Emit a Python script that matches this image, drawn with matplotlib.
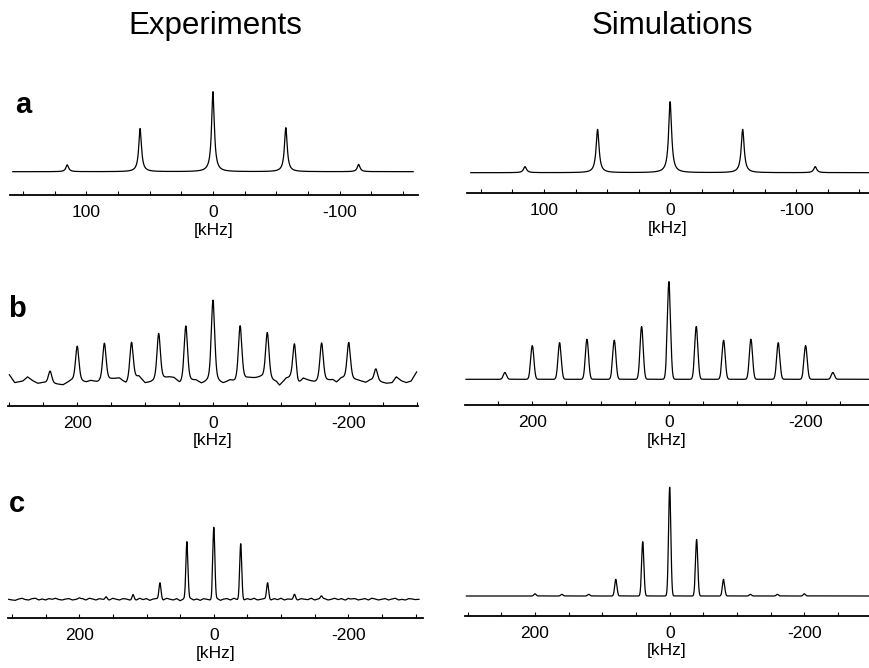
import numpy as np
import matplotlib
matplotlib.use("Agg")
import matplotlib.pyplot as plt
from matplotlib.ticker import MultipleLocator, FixedLocator

plt.rcParams['font.family'] = ['Liberation Sans', 'DejaVu Sans']
plt.rcParams['axes.unicode_minus'] = False

# ---------------- data (kHz, relative intensity; centre band = 100) ----------------
# row a : spinning ~57.5 kHz
a_pos = [115, 57.5, 0, -57.5, -115]
a_exp_amp = [8.5, 54, 100, 55, 9]
a_sim_amp = [8.5, 61, 100, 61, 8.5]

# row b : sidebands every 40 kHz
b_pos = [240, 200, 160, 120, 80, 40, 0, -40, -80, -120, -160, -200, -240]
b_exp_amp = [15, 43, 46, 47, 57, 69, 100, 67, 57, 47, 47, 45, 15]
b_sim_amp = [7, 34.5, 37.5, 41, 40, 54, 100, 54, 40, 41, 37.5, 34.5, 7]
b_exp_base_khz = [302, 292, 280, 273, 265, 258, 250, 221, 209, 187, 180, 170, 147, 138,
                  128, 109, 100, 91, 64, 57, 49, 25, 17, 8, -5, -15, -25, -32, -54, -62,
                  -71, -94, -98, -108, -114, -125, -133, -142, -150, -170, -177, -182,
                  -189, -216, -225, -232, -256, -264, -270, -278, -285, -292, -300]
b_exp_base_val = [12, 0, 2, 7, 2, -1, 0, -3, 2, 0, 2, 0, 4, 5,
                  -2, 7, -1, 0, 6, 5, -2, 2, -2, 0, 0, -2, 2, 0, 5, 5,
                  6, 0, -4, 4.5, 4.5, -4, 4.5, 2, 0, 2, 3, 0,
                  5, 2, 0, 3, -1, 0, 7, 2, 0, 2, 13]

# row c : sidebands every 40 kHz
c_pos = [200, 160, 120, 80, 40, 0, -40, -80, -120, -160, -200]
c_exp_amp = [1.5, 4, 7.5, 23, 79, 100, 78, 23, 7.5, 4, 1.5]
c_sim_amp = [2, 1.5, 1.5, 15.3, 50, 100, 52, 15.3, 1.5, 1.5, 2]
c_exp_base_khz = [305, 300, 295, 290, 285, 280, 275, 270, 265, 260, 255, 250, 245, 240,
                  235, 230, 225, 220, 215, 210, 205, 195, 190, 185, 180, 175, 170, 165,
                  155, 150, 145, 140, 135, 130, 125, 115, 110, 105, 100, 95, 90, 85,
                  75, 70, 65, 60, 55, 50, 45, 35, 30, 25, 20, 15, 10, 5,
                  -5, -10, -15, -20, -25, -30, -35, -45, -50, -55, -60, -65, -70, -75,
                  -85, -90, -95, -100, -105, -110, -115, -125, -130, -135, -140, -145,
                  -150, -155, -165, -170, -175, -180, -185, -190, -195, -205, -210, -215,
                  -220, -225, -230, -235, -240, -245, -250, -255, -260, -265, -270, -275,
                  -280, -285, -290, -295, -300, -305]
c_exp_base_val = [0, -1, -1.5, 0.5, 1.5, -0.5, -1, 1, 1.5, -1, 0.5, -1, 1, 0,
                  1.5, -0.5, -1, 0.5, 1, -1, 0, 1, -1, 1.5, 0.5, -1, 1, 0,
                  -1, 1.5, 0, -1, 1, 0.5, -1, -1, 1.5, -0.5, 1, -1.5, 0.5, 1,
                  -1, 1.5, 0, -1, 1, -2, 0.5, 1.5, -1, 0.5, -1.5, 1, 0, -1,
                  1, -1.5, 0.5, 1, -1, 1.5, -0.5, -1, 1, -0.5, 1.5, -1, 0, 1,
                  -1, 1, -0.5, 1.5, -1, 0.5, 0, -1, 1, 0, -0.5, 1.5,
                  -1, 0.5, 1, -1, 0, 1.5, -0.5, 1, -1, 0.5, 1, -1,
                  0, 1, -1, 1.5, 0.5, -1, 0, 1, -1, 0.5, 1.5, -1,
                  0, -1, 1, 0.5, -0.5, 0]

tick_label_a = ['100', '0', '-100']
tick_label_bc = ['200', '0', '-200']


# ---------------- helpers ----------------
def lorentz(x, pos, amp, fwhm):
    y = np.zeros_like(x)
    for p, a in zip(pos, amp):
        y += a / (1.0 + ((x - p) / (fwhm / 2.0)) ** 2)
    return y


def gauss(x, pos, amp, fwhm):
    y = np.zeros_like(x)
    s = fwhm / 2.3548
    for p, a in zip(pos, amp):
        y += a * np.exp(-0.5 * ((x - p) / s) ** 2)
    return y


def mixed(x, pos, amp, fwhm):
    return 0.6 * gauss(x, pos, amp, fwhm) + 0.4 * lorentz(x, pos, amp, fwhm)


W, H = 869, 668
fig = plt.figure(figsize=(W / 100, H / 100), dpi=100)

PANEL_H = 150  # px
FS = 12.5


def panel(x0, x1, axis_y, base_off, center_px, xlim, x, y, major, minor, labels):
    ax = fig.add_axes([x0 / W, (H - axis_y) / H, (x1 - x0) / W, PANEL_H / H])
    upp = 100.0 / center_px
    ax.plot(x, y, color='black', lw=0.9, clip_on=False)
    ax.set_xlim(*xlim)
    ax.set_ylim(-base_off * upp, (PANEL_H - base_off) * upp)
    for s in ['top', 'left', 'right']:
        ax.spines[s].set_visible(False)
    ax.spines['bottom'].set_linewidth(1.3)
    ax.set_yticks([])
    ax.xaxis.set_major_locator(FixedLocator(major))
    ax.set_xticklabels(labels)
    ax.xaxis.set_minor_locator(MultipleLocator(minor))
    ax.tick_params(axis='x', which='both', direction='in', length=3, width=0.8,
                   labelsize=FS, pad=7)
    ax.set_xlabel('[kHz]', fontsize=FS, labelpad=2)
    ax.patch.set_alpha(0)
    return ax


# row a
xa = np.linspace(-170, 170, 6000)
xa_l = xa[(xa <= 158) & (xa >= -158)]
panel(10, 418, 195, 23.3, 80, (160.2, -161.8), xa_l,
      lorentz(xa_l, a_pos, a_exp_amp, 2.6), [100, 0, -100], 25, tick_label_a)
xa_r = xa[(xa <= 158) & (xa >= -160)]
panel(467, 869, 193.3, 20.6, 71, (161, -157.6), xa_r,
      lorentz(xa_r, a_pos, a_sim_amp, 2.8), [100, 0, -100], 25, tick_label_a)

# row b
xb = np.linspace(-300, 300, 8000)
yb_exp = mixed(xb, b_pos, b_exp_amp, 6.0) + np.interp(xb, b_exp_base_khz[::-1], b_exp_base_val[::-1])
panel(8, 418, 406, 23.3, 82.3, (302, -302), xb, yb_exp, [200, 0, -200], 50, tick_label_bc)
xb_r = xb[xb <= 297]
panel(465, 869, 405, 25.7, 97.7, (298.5, -292.8), xb_r,
      gauss(xb_r, b_pos, b_sim_amp, 5.5), [200, 0, -200], 50, tick_label_bc)

# row c
xc = np.linspace(-305, 305, 8000)
yc_exp = gauss(xc, c_pos, c_exp_amp, 3.6) + np.interp(xc, c_exp_base_khz[::-1], c_exp_base_val[::-1])
panel(8, 423, 618.3, 19, 72, (306, -311), xc, yc_exp, [200, 0, -200], 50, tick_label_bc)
xc_r = xc[xc <= 302]
panel(465, 869, 616, 20, 108.7, (304, -296), xc_r,
      gauss(xc_r, c_pos, c_sim_amp, 4.0), [200, 0, -200], 50, tick_label_bc)

# titles and panel letters
fig.text(215 / W, 1 - 34.3 / H, 'Experiments', ha='center', va='baseline', fontsize=22.5)
fig.text(672 / W, 1 - 34.3 / H, 'Simulations', ha='center', va='baseline', fontsize=22.5)
for lab, xl, yl in [('a', 15, 113), ('b', 8, 317), ('c', 9, 512)]:
    fig.text(xl / W, 1 - yl / H, lab, ha='left', va='baseline', fontsize=21, fontweight='bold')

fig.savefig('out.png', dpi=100)
